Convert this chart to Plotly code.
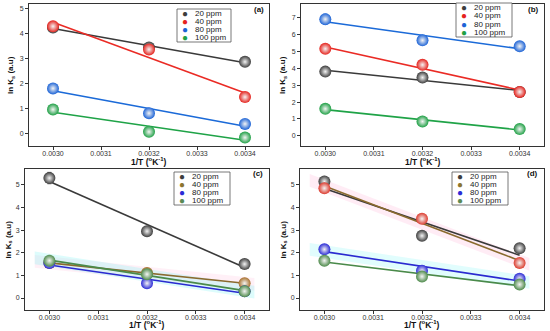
import numpy as np
import plotly.graph_objects as go

# ---- data ----
inv_T = [0.0030, 0.0032, 0.0034]
series_names = ["20 ppm", "40 ppm", "80 ppm", "100 ppm"]
panel_labels = ["(a)", "(b)", "(c)", "(d)"]

a_20 = [4.25, 3.45, 2.87]
a_40 = [4.30, 3.37, 1.45]
a_80 = [1.80, 0.80, 0.37]
a_100 = [0.95, 0.05, -0.18]

b_20 = [3.80, 3.45, 2.60]
b_40 = [5.15, 4.20, 2.60]
b_80 = [6.90, 5.65, 5.30]
b_100 = [1.60, 0.85, 0.40]

c_20 = [5.30, 2.95, 1.50]
c_40 = [1.55, 1.10, 0.65]
c_80 = [1.55, 0.65, 0.30]
c_100 = [1.65, 1.05, 0.30]

d_20 = [5.15, 2.75, 2.20]
d_40 = [4.85, 3.50, 1.55]
d_80 = [2.15, 1.20, 0.85]
d_100 = [1.65, 0.95, 0.60]

err_a = [[0.12, 0.05, 0.05], [0.15, 0.08, 0.05], [0.05, 0.05, 0.05], [0.05, 0.05, 0.05]]
err_b = [[0.08, 0.05, 0.05], [0.08, 0.08, 0.05], [0.30, 0.10, 0.12], [0.05, 0.05, 0.05]]
err_c = [[0.25, 0.05, 0.05], [0.05, 0.05, 0.05], [0.05, 0.05, 0.05], [0.05, 0.05, 0.05]]
err_d = [[0.22, 0.05, 0.05], [0.15, 0.08, 0.05], [0.05, 0.05, 0.05], [0.05, 0.05, 0.05]]

panels = [
    [a_20, a_40, a_80, a_100],
    [b_20, b_40, b_80, b_100],
    [c_20, c_40, c_80, c_100],
    [d_20, d_40, d_80, d_100],
]
errs = [err_a, err_b, err_c, err_d]
y_ranges = [[-0.52, 5.2], [-0.6, 7.8], [-0.53, 5.7], [-0.53, 5.7]]
y_ticks = [[0, 1, 2, 3, 4, 5], [0, 1, 2, 3, 4, 5, 6, 7], [0, 1, 2, 3, 4, 5], [0, 1, 2, 3, 4, 5]]

# faint shaded bands (panel index, series index, colour)
bands = [(2, 1, "rgba(255,170,210,0.18)"), (2, 3, "rgba(120,245,245,0.25)"),
         (3, 1, "rgba(255,170,210,0.22)"), (3, 2, "rgba(120,245,245,0.22)")]
band_half = 0.28

# ---- styles ----
colors_top = {"marker": ["#3d3d3d", "#e5231d", "#1c63d6", "#1fa045"],
              "line": ["#3a3a3a", "#ea2b25", "#1b6ad8", "#1fa347"],
              "legend": ["#3d3d3d", "#e5231d", "#1c63d6", "#1fa045"]}
colors_c = {"marker": ["#3d3d3d", "#a8722e", "#2b2bd6", "#4d8a4a"],
            "line": ["#3a3a3a", "#8a6a2e", "#2a2ad0", "#4a8a4a"],
            "legend": ["#3d3d3d", "#8c7530", "#2b2bd6", "#5a8a55"]}
colors_d = {"marker": ["#3d3d3d", "#dc3b2e", "#2b2bd6", "#4d8a4a"],
            "line": ["#3a3a3a", "#8a6a2e", "#2a2ad0", "#4a8a4a"],
            "legend": ["#3d3d3d", "#8c7530", "#2b2bd6", "#5a8a55"]}
panel_colors = [colors_top, colors_top, colors_c, colors_d]

domains = [
    ([29 / 550, 269 / 550], [1 - 146 / 331, 1 - 4 / 331]),
    ([301 / 550, 544 / 550], [1 - 146 / 331, 1 - 4 / 331]),
    ([25 / 550, 269 / 550], [1 - 310 / 331, 1 - 169 / 331]),
    ([300 / 550, 544 / 550], [1 - 310 / 331, 1 - 169 / 331]),
]
legend_boxes = [  # x0, x1, ytop, ybottom in pixels
    (177, 231, 9, 42),
    (456, 512, 3, 37),
    (174, 230, 172, 205),
    (452, 508, 172, 205),
]
label_pos = [(266, 10), (541, 10), (265, 174), (540, 174)]
xtitle_y = [161, 161, 324, 324]
ytitle_x = [11, 283, 9, 284]

FONT = "Arial, Liberation Sans, sans-serif"
fig = go.Figure()
shapes = []
annotations = []

xfit = np.array([0.0030, 0.0034])
xband = np.array([0.00297, 0.00342])
for p in range(4):
    sfx = "" if p == 0 else str(p + 1)
    xa, ya = "x" + sfx, "y" + sfx
    cols = panel_colors[p]
    fits = [np.polyfit(inv_T, np.array(panels[p][s]), 1) for s in range(4)]
    for (bp, bs, bc) in bands:
        if bp != p:
            continue
        k, b0 = fits[bs]
        yc = k * xband + b0
        fig.add_trace(go.Scatter(x=np.concatenate([xband, xband[::-1]]),
                                 y=np.concatenate([yc + band_half, (yc - band_half)[::-1]]),
                                 fill="toself", fillcolor=bc, line=dict(width=0), mode="lines",
                                 xaxis=xa, yaxis=ya, showlegend=False, hoverinfo="skip"))
    for s in range(4):
        k, b0 = fits[s]
        fig.add_trace(go.Scatter(x=xfit, y=k * xfit + b0, mode="lines",
                                 line=dict(color=cols["line"][s], width=1.6),
                                 xaxis=xa, yaxis=ya, showlegend=False, hoverinfo="skip"))
    for s in range(4):
        fig.add_trace(go.Scatter(x=inv_T, y=panels[p][s], mode="markers",
                                 marker=dict(size=12, color=cols["marker"][s],
                                             gradient=dict(type="radial", color="#f4f4f4"),
                                             line=dict(width=0)),
                                 error_y=dict(type="data", array=errs[p][s], color=cols["marker"][s],
                                              thickness=1, width=2),
                                 name=series_names[s], xaxis=xa, yaxis=ya, showlegend=False))
    dx, dy = domains[p]
    axis_common = dict(showline=True, linecolor="#333", linewidth=1, mirror=True,
                       ticks="outside", ticklen=3, tickcolor="#333", showgrid=False,
                       zeroline=False, tickfont=dict(size=7, color="#333", family=FONT))
    fig.layout["xaxis" + sfx] = dict(domain=dx, anchor=ya, range=[0.00295, 0.00345],
                                     tickvals=[0.0030, 0.0031, 0.0032, 0.0033, 0.0034],
                                     ticktext=["0.0030", "0.0031", "0.0032", "0.0033", "0.0034"],
                                     ticklabelstandoff=-2,
                                     **axis_common)
    fig.layout["yaxis" + sfx] = dict(domain=dy, anchor=xa, range=y_ranges[p],
                                     tickvals=y_ticks[p], **axis_common)
    # axis titles
    annotations.append(dict(xref="paper", yref="paper", x=(dx[0] + dx[1]) / 2, y=1 - xtitle_y[p] / 331,
                            text="<b>1/T (<sup>o</sup>K<sup>-1</sup>)</b>", showarrow=False,
                            xanchor="center", yanchor="middle",
                            font=dict(size=8.5, family=FONT, color="#111")))
    annotations.append(dict(xref="paper", yref="paper", x=ytitle_x[p] / 550, y=(dy[0] + dy[1]) / 2,
                            text="<b>ln K<sub>s</sub> (a.u)</b>", showarrow=False, textangle=-90,
                            xanchor="center", yanchor="middle",
                            font=dict(size=8, family=FONT, color="#111")))
    # legend box
    x0, x1, yt, yb = legend_boxes[p]
    shapes.append(dict(type="rect", xref="paper", yref="paper",
                       x0=x0 / 550, x1=x1 / 550, y0=1 - yb / 331, y1=1 - yt / 331,
                       line=dict(color="#555", width=0.8), fillcolor="white", layer="above"))
    step = (yb - yt) / 4
    for s in range(4):
        yc = yt + step * (s + 0.5)
        annotations.append(dict(xref="paper", yref="paper", x=(x0 + 8) / 550, y=1 - yc / 331,
                                text="●", showarrow=False, xanchor="center", yanchor="middle",
                                font=dict(size=10, color=cols["legend"][s], family=FONT)))
        annotations.append(dict(xref="paper", yref="paper", x=(x0 + 16) / 550, y=1 - yc / 331,
                                text=series_names[s], showarrow=False, xanchor="left",
                                yanchor="middle",
                                font=dict(size=8, color="#222", family=FONT)))
    lx, ly = label_pos[p]
    annotations.append(dict(xref="paper", yref="paper", x=lx / 550, y=1 - ly / 331,
                            text="<b>" + panel_labels[p] + "</b>", showarrow=False,
                            xanchor="right", yanchor="middle",
                            font=dict(size=8, color="#111", family=FONT)))

fig.update_layout(width=550, height=331, margin=dict(l=0, r=0, t=0, b=0),
                  paper_bgcolor="white", plot_bgcolor="white",
                  shapes=shapes, annotations=annotations, showlegend=False,
                  font=dict(family=FONT))
fig.write_html("out.html", config={"displayModeBar": False},
               post_script="document.body.style.margin='0';document.body.style.padding='0';")
